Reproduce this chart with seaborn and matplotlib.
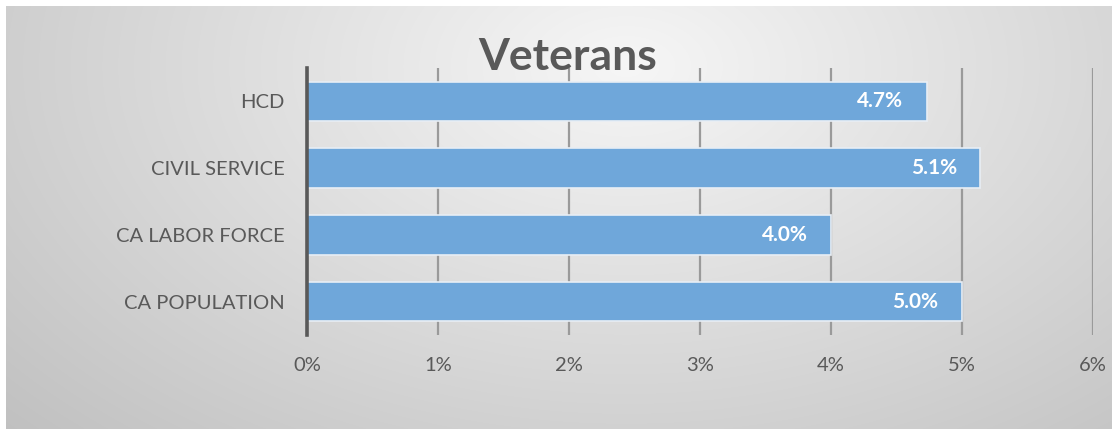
import matplotlib
matplotlib.use("Agg")
import matplotlib.pyplot as plt
import seaborn as sns
import numpy as np
import pandas as pd

# chart data
categories = ['HCD', 'CIVIL SERVICE', 'CA LABOR FORCE', 'CA POPULATION']
veteran_pct = [4.73, 5.14, 4.0, 5.0]
x_ticks = [0, 1, 2, 3, 4, 5, 6]
x_tick_labels = ['0%', '1%', '2%', '3%', '4%', '5%', '6%']

df = pd.DataFrame({'Group': categories, 'Pct': veteran_pct})

sns.set_style('white')
plt.rcParams['font.family'] = ['Lato', 'DejaVu Sans']

fig = plt.figure(figsize=(11.16, 4.32), dpi=100)
fig.patch.set_facecolor('white')

# radial grey gradient background
bg = fig.add_axes([6 / 1116, 3 / 432, 1106 / 1116, 423 / 432], zorder=0)
h, w = 423, 1106
yy, xx = np.mgrid[0:h, 0:w]
cx, cy = 620, 60
r = np.sqrt(((xx - cx) / 1.0) ** 2 + ((yy - cy) * 1.6) ** 2)
r = r / r.max()
shade = 0.965 - 0.21 * r
bg.imshow(np.dstack([shade] * 3), aspect='auto', extent=[0, 1, 0, 1])
bg.set_axis_off()

ax = fig.add_axes([307 / 1116, 1 - 335 / 432, 786 / 1116, 267 / 432], zorder=1)
ax.patch.set_alpha(0)

sns.barplot(data=df, x='Pct', y='Group', orient='h', color='#6fa7da',
            width=0.59, edgecolor='#e8eef5', linewidth=1.2, saturation=1, ax=ax)

ax.set_xlim(0, 6)
ax.set_ylim(3.5, -0.5)
ax.set_xticks(x_ticks)
ax.set_xticklabels(x_tick_labels)
ax.xaxis.grid(True, color='#9a9a9a', linewidth=1.6)
ax.set_axisbelow(True)
ax.set_xlabel('')
ax.set_ylabel('')
for s in ['top', 'right', 'bottom']:
    ax.spines[s].set_visible(False)
ax.spines['left'].set_color('#595959')
ax.spines['left'].set_linewidth(2.6)
ax.tick_params(axis='both', length=0, labelsize=14.5, labelcolor='#595959')
ax.tick_params(axis='x', pad=16)
ax.tick_params(axis='y', pad=16)

for i, v in enumerate(veteran_pct):
    ax.text(v - 0.18, i, f'{v:.1f}%', ha='right', va='center',
            color='white', fontsize=15, fontweight='bold')

fig.text(568 / 1116, 1 - 57 / 432, 'Veterans', ha='center', va='center',
         fontsize=32, fontweight='bold', color='#595959')

fig.savefig('out.png', dpi=100)
